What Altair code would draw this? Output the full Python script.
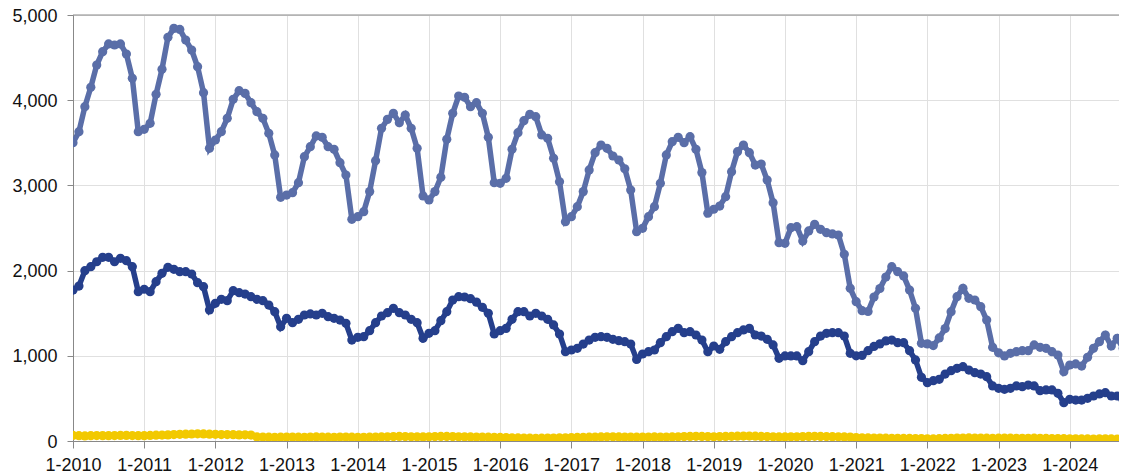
import altair as alt
import pandas as pd

years = list(range(2010, 2025))

light = [
    3501, 3630, 3924, 4151, 4413, 4570, 4660, 4648, 4660, 4542, 4257, 3630,
    3658, 3729, 4069, 4362, 4738, 4843, 4831, 4706, 4589, 4393, 4088, 3435,
    3533, 3630, 3787, 4010, 4112, 4080, 3971, 3865, 3787, 3611, 3357, 2860,
    2887, 2915, 3032, 3337, 3454, 3580, 3564, 3454, 3423, 3267, 3122, 2602,
    2633, 2692, 2927, 3290, 3670, 3775, 3846, 3736, 3826, 3670, 3435, 2876,
    2829, 2927, 3095, 3541, 3846, 4049, 4034, 3924, 3971, 3846, 3564, 3032,
    3024, 3083, 3423, 3619, 3760, 3834, 3806, 3592, 3553, 3318, 3043, 2574,
    2633, 2750, 2927, 3181, 3384, 3474, 3435, 3345, 3298, 3195, 2946, 2457,
    2496, 2633, 2750, 3024, 3357, 3513, 3564, 3501, 3572, 3423, 3150, 2673,
    2720, 2758, 2868, 3161, 3396, 3474, 3384, 3239, 3251, 3063, 2797, 2327,
    2320, 2504, 2515, 2347, 2465, 2543, 2485, 2445, 2430, 2418, 2191, 1792,
    1635, 1530, 1520, 1690, 1790, 1925, 2046, 1987, 1937, 1772, 1557, 1147,
    1140, 1120, 1210, 1320, 1518, 1694, 1792, 1675, 1655, 1576, 1420, 1100,
    1035, 998, 1029, 1048, 1060, 1060, 1127, 1100, 1088, 1048, 1009, 813,
    892, 904, 880, 982, 1088, 1166, 1244, 1115, 1205, 1088, 850,
]

dark = [
    1772, 1819, 1999, 2046, 2104, 2156, 2156, 2104, 2144, 2116, 2046, 1752,
    1781, 1752, 1870, 1968, 2038, 2015, 1987, 1987, 1960, 1858, 1811, 1538,
    1616, 1663, 1647, 1764, 1741, 1725, 1694, 1663, 1647, 1596, 1518, 1342,
    1440, 1389, 1428, 1479, 1491, 1479, 1499, 1459, 1440, 1420, 1381, 1185,
    1217, 1224, 1295, 1389, 1467, 1506, 1557, 1506, 1479, 1428, 1389, 1205,
    1264, 1295, 1412, 1518, 1655, 1694, 1690, 1670, 1630, 1569, 1499, 1256,
    1295, 1322, 1428, 1518, 1518, 1467, 1499, 1467, 1428, 1362, 1256, 1048,
    1068, 1088, 1138, 1185, 1217, 1224, 1217, 1194, 1177, 1166, 1138, 958,
    1021, 1048, 1068, 1154, 1224, 1283, 1322, 1271, 1283, 1244, 1185, 1048,
    1115, 1076, 1166, 1224, 1271, 1303, 1322, 1244, 1232, 1194, 1127, 970,
    998, 998, 998, 942, 1048, 1166, 1232, 1264, 1271, 1271, 1232, 1029,
    1000, 1005, 1060, 1110, 1140, 1175, 1185, 1154, 1154, 1060, 951, 748,
    685, 708, 724, 786, 825, 853, 872, 833, 802, 786, 755, 646,
    618, 607, 618, 646, 638, 657, 646, 591, 599, 599, 560, 450,
    489, 481, 481, 501, 528, 552, 567, 528, 528, 481, 460,
]

yellow = [
    65, 62, 60, 62, 64, 63, 62, 64, 65, 66, 64, 62,
    63, 65, 68, 70, 72, 75, 78, 80, 82, 84, 83, 80,
    78, 76, 75, 74, 72, 73, 70, 48, 46, 45, 44, 45,
    46, 47, 45, 44, 46, 48, 47, 45, 44, 46, 47, 45,
    44, 43, 45, 47, 48, 50, 52, 54, 52, 50, 49, 48,
    50, 52, 54, 53, 52, 50, 49, 48, 47, 46, 45, 44,
    42, 40, 38, 36, 34, 33, 32, 33, 34, 35, 36, 38,
    40, 42, 44, 45, 46, 48, 49, 50, 48, 47, 46, 45,
    46, 47, 48, 47, 46, 48, 50, 52, 54, 55, 53, 52,
    50, 52, 54, 55, 57, 58, 58, 56, 54, 52, 50, 48,
    48, 49, 50, 52, 54, 55, 53, 52, 51, 50, 48, 46,
    40, 38, 36, 35, 34, 33, 32, 31, 30, 30, 29, 28,
    25, 24, 27, 30, 32, 34, 35, 36, 35, 34, 33, 32,
    33, 34, 33, 32, 31, 32, 33, 31, 30, 29, 28, 27,
    26, 25, 24, 24, 23, 24, 25, 24, 23, 22, 22,
]

y_ticks = [0, 1000, 2000, 3000, 4000, 5000]
series_names = ["Light", "Dark", "Yellow"]
series_colors = ["#5a6ea8", "#253f8c", "#f2c900"]

def frame(values, name):
    return pd.DataFrame({"t": list(range(len(values))), "v": values, "s": name})

df = pd.concat([frame(light, "Light"), frame(dark, "Dark"), frame(yellow, "Yellow")])

FONT = "Liberation Sans"
x_ticks = [12 * i for i in range(len(years))]

xenc = alt.X(
    "t:Q",
    scale=alt.Scale(domain=[0, 176.3], nice=False, zero=False),
    axis=alt.Axis(
        values=x_ticks,
        labelExpr="'1-' + (2010 + round(datum.value / 12))",
        title=None,
        grid=True,
        gridColor="#e0e0e0",
        domainColor="#888888",
        tickColor="#888888",
        tickSize=7,
        labelPadding=8,
        labelFont=FONT,
        labelFontSize=18,
        labelColor="#111111",
        labelFlush=False,
        labelOverlap=False,
    ),
)
yenc = alt.Y(
    "v:Q",
    scale=alt.Scale(domain=[0, 5000], nice=False),
    axis=alt.Axis(
        values=y_ticks,
        labelExpr="datum.value == 0 ? '0' : (datum.value / 1000) + ',000'",
        title=None,
        grid=True,
        gridColor="#e0e0e0",
        domainColor="#888888",
        tickColor="#888888",
        tickSize=6,
        labelPadding=10,
        labelOffset=1,
        labelFont=FONT,
        labelFontSize=18,
        labelColor="#111111",
    ),
)

color = alt.Color(
    "s:N",
    scale=alt.Scale(domain=series_names, range=series_colors),
    legend=None,
)

layers = []
for name in series_names:
    layers.append(
        alt.Chart(df[df["s"] == name])
        .mark_line(
            strokeWidth=5.5,
            clip=True,
            point=alt.OverlayMarkDef(size=85, filled=True, opacity=1, clip=True),
        )
        .encode(x=xenc, y=yenc, color=color)
    )

top_rule = (
    alt.Chart(pd.DataFrame({"v": [5000]}))
    .mark_rule(color="#888888", strokeWidth=1)
    .encode(y=yenc)
)

chart = (
    alt.layer(*layers, top_rule)
    .properties(
        width=1046,
        height=426,
        autosize=alt.AutoSizeParams(type="none"),
        padding={"left": 65, "top": 7, "right": 0, "bottom": 33},
    )
    .configure_view(stroke=None)
    .configure(background="white")
)

chart.save("out.html", embed_options={"renderer": "svg", "actions": False})
